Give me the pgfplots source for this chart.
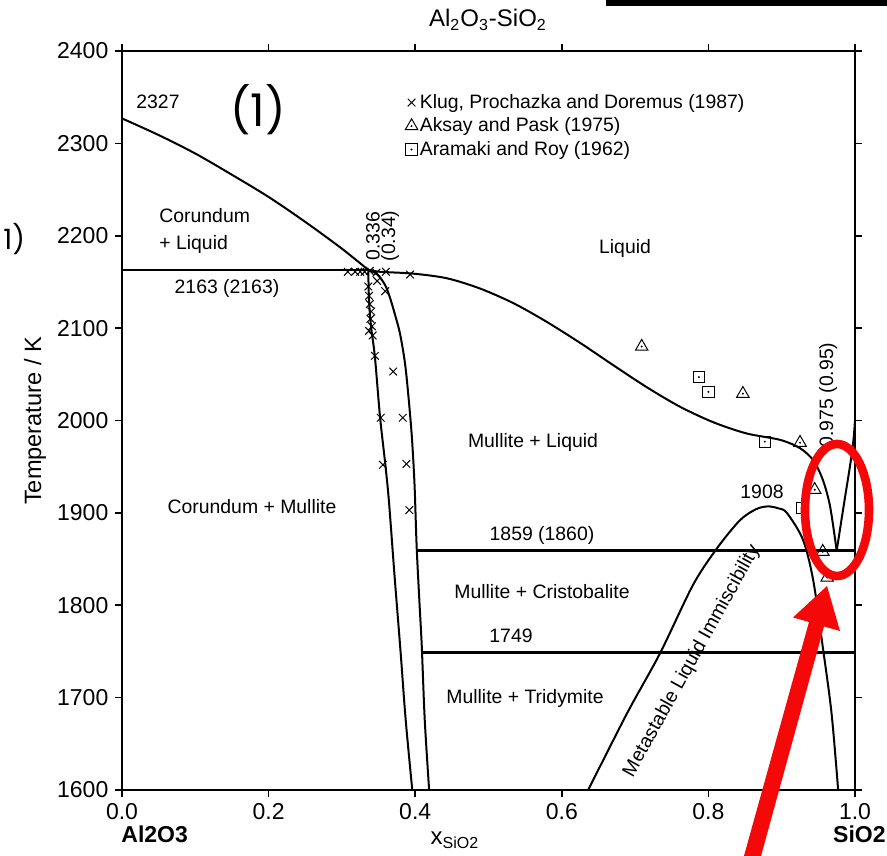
\documentclass[border=0pt]{standalone}
\usepackage{pgfplots}
\pgfplotsset{compat=1.18}
\usepackage{fontspec}
\setmainfont{Liberation Sans}
\newfontfamily\numfont{Poppins}
\definecolor{ared}{RGB}{245,8,8}
\pgfdeclareplotmark{tridot}{\pgfuseplotmark{triangle}\pgfpathcircle{\pgfpointorigin}{0.55pt}\pgfusepathqfill}
\pgfdeclareplotmark{sqdot}{\pgfuseplotmark{square}\pgfpathcircle{\pgfpointorigin}{0.55pt}\pgfusepathqfill}
\newcommand\lab{\fontsize{9.7}{11.6}\selectfont}
\begin{document}
\begin{tikzpicture}
\path[use as bounding box] (-61pt,-32.5pt) rectangle (382.5pt,395pt);
\begin{axis}[
  at={(0,0)}, anchor=south west, scale only axis,
  width=366.5pt, height=369.5pt,
  xmin=0, xmax=1, ymin=1600, ymax=2400,
  xtick={0,0.2,0.4,0.6,0.8,1.0},
  ytick={1600,1700,1800,1900,2000,2100,2200,2300,2400},
  xticklabel style={/pgf/number format/.cd,fixed,fixed zerofill,precision=1},
  yticklabel style={/pgf/number format/1000 sep={}},
  /pgf/number format/assume math mode=true,
  tick align=outside, major tick length=3.3pt,
  tick label style={font=\fontsize{11.5}{13}\selectfont},
  axis line style={line width=0.9pt},
  every tick/.style={black, line width=0.8pt},
  legend style={at={(rel axis cs:0.386,0.945)}, anchor=north west, draw=none, fill=none,
    font=\lab, inner sep=0pt, row sep=1.2pt, nodes={inner sep=1pt}},
  legend cell align=left,
]
% liquidus, Al2O3 side
\addplot[black, line width=1pt, smooth, forget plot] coordinates {
(0,2327)(0.05,2309)(0.1,2289)(0.15,2266)(0.2,2242)(0.25,2215)(0.3,2186)(0.336,2163)};
% liquidus, mullite
\addplot[black, line width=1pt, smooth, forget plot] coordinates {
(0.336,2163)(0.352,2161)(0.397,2159)(0.443,2154)(0.488,2143)(0.534,2127)(0.579,2107)(0.625,2084)(0.670,2060)(0.716,2036)(0.761,2015)(0.807,1998)(0.852,1986)(0.898,1979)(0.925,1970)(0.943,1957)(0.956,1936)(0.966,1907)(0.975,1859)};
% liquidus, SiO2 side
\addplot[black, line width=1pt, smooth, forget plot] coordinates {
(0.975,1859)(0.985,1910)(0.994,1955)(0.998,1980)(1.0,2000)};
% mullite solvus left
\addplot[black, line width=1pt, smooth, forget plot] coordinates {
(0.336,2163)(0.337,2130)(0.340,2100)(0.345,2069)(0.352,2004)(0.359,1954)(0.364,1914)(0.372,1830)(0.380,1750)(0.387,1676)(0.396,1600)};
% mullite solvus right
\addplot[black, line width=1pt, smooth, forget plot] coordinates {
(0.336,2163)(0.345,2160)(0.352,2155)(0.360,2145)(0.366,2132)(0.373,2113)(0.379,2095)(0.385,2068)(0.389,2041)(0.395,1987)(0.399,1932)(0.402,1863)(0.406,1800)(0.409,1755)(0.413,1676)(0.419,1600)};
% invariant lines
\addplot[black, line width=1.3pt, forget plot] coordinates {(0,2163)(0.336,2163)};
\addplot[black, line width=1.3pt, forget plot] coordinates {(0.403,1859)(1,1859)};
\addplot[black, line width=1.3pt, forget plot] coordinates {(0.410,1749)(1,1749)};
% metastable immiscibility dome
\addplot[black, line width=1pt, smooth, forget plot] coordinates {
(0.636,1600)(0.689,1683)(0.734,1748)(0.779,1822)(0.812,1862)(0.843,1892)(0.865,1904)(0.881,1907)(0.895,1905)(0.907,1900)(0.929,1871)(0.943,1827)(0.956,1755)(0.968,1683)(0.977,1600)};
% data
\addplot[only marks, mark=x, mark size=2.7pt, black, line width=0.5pt,
  legend image code/.code={\draw plot coordinates {(3pt,0pt)};}] coordinates {
(0.308,2161)(0.318,2161)(0.325,2161)(0.331,2161)(0.338,2162)(0.347,2160)(0.360,2161)(0.393,2158)
(0.348,2151)(0.359,2140)
(0.336,2145)(0.337,2135)(0.338,2126)(0.340,2118)(0.339,2110)(0.341,2102)(0.337,2097)(0.342,2092)
(0.345,2070)(0.370,2053)(0.353,2003)(0.383,2003)(0.356,1952)(0.388,1953)(0.392,1903)};
\addlegendentry{Klug, Prochazka and Doremus (1987)}
\addplot[only marks, mark=tridot, mark size=3.6pt, black, fill=black, line width=0.5pt,
  legend image code/.code={\draw plot coordinates {(3pt,0pt)};}] coordinates {
(0.709,2080)(0.847,2029)(0.925,1976)(0.945,1925)(0.956,1858)(0.962,1830)};
\addlegendentry{Aksay and Pask (1975)}
\addplot[only marks, mark=sqdot, mark size=2.8pt, black, fill=black, line width=0.5pt,
  legend image code/.code={\draw plot coordinates {(3pt,0pt)};}] coordinates {
(0.787,2047)(0.800,2031)(0.877,1977)(0.928,1905)};
\addlegendentry{Aramaki and Roy (1962)}
\end{axis}
\begin{scope}[x=0.5pt, y=-0.5pt, shift={(-61pt,395pt)}]
\fill[black] (606,0) rectangle (887,6);
\node[font=\fontsize{12}{14}\selectfont] at (488,20) {Al\textsubscript{2}O\textsubscript{3}-SiO\textsubscript{2}};
\node[font=\fontsize{11.8}{14}\selectfont, rotate=90] at (35,421) {Temperature / K};
\node[font=\fontsize{12}{14}\selectfont] at (455,840) {x\textsubscript{SiO2}};
\node[font=\fontsize{11.5}{14}\selectfont\bfseries, anchor=west, inner sep=0pt] at (121,834) {Al2O3};
\node[font=\fontsize{11.5}{14}\selectfont\bfseries, anchor=east, inner sep=0pt] at (886,834) {SiO2};
\node[font=\numfont\fontsize{22.5}{26}\selectfont] at (258,110) {(1)};
\node[font=\numfont\fontsize{14}{16}\selectfont, anchor=west, inner sep=0pt] at (3,239) {1)};
\node[font=\lab] at (158,102) {2327};
\node[font=\lab, anchor=west, inner sep=0pt] at (159,216) {Corundum};
\node[font=\lab, anchor=west, inner sep=0pt] at (159,244) {+ Liquid};
\node[font=\lab] at (227,288) {2163 (2163)};
\node[font=\lab, rotate=90] at (373,236) {0.336};
\node[font=\lab, rotate=90] at (390,236) {(0.34)};
\node[font=\lab] at (625,248) {Liquid};
\node[font=\lab] at (533,442) {Mullite + Liquid};
\node[font=\lab] at (252,507) {Corundum + Mullite};
\node[font=\lab] at (542,535) {1859 (1860)};
\node[font=\lab] at (762,492) {1908};
\node[font=\lab] at (542,592) {Mullite + Cristobalite};
\node[font=\lab] at (511,636) {1749};
\node[font=\lab] at (525,698) {Mullite + Tridymite};
\node[font=\lab, rotate=90] at (828,395) {0.975 (0.95)};
\node[font=\lab, rotate=61] at (692,661) {Metastable Liquid Immiscibility};
\draw[ared, line width=4.3pt] (837,510) ellipse [x radius=32, y radius=66];
\fill[ared] (742,863) -- (809,622) -- (793,617.5) -- (827,586) -- (840,631) -- (824,626.5) -- (758,867) -- cycle;
\end{scope}
\end{tikzpicture}
\end{document}
